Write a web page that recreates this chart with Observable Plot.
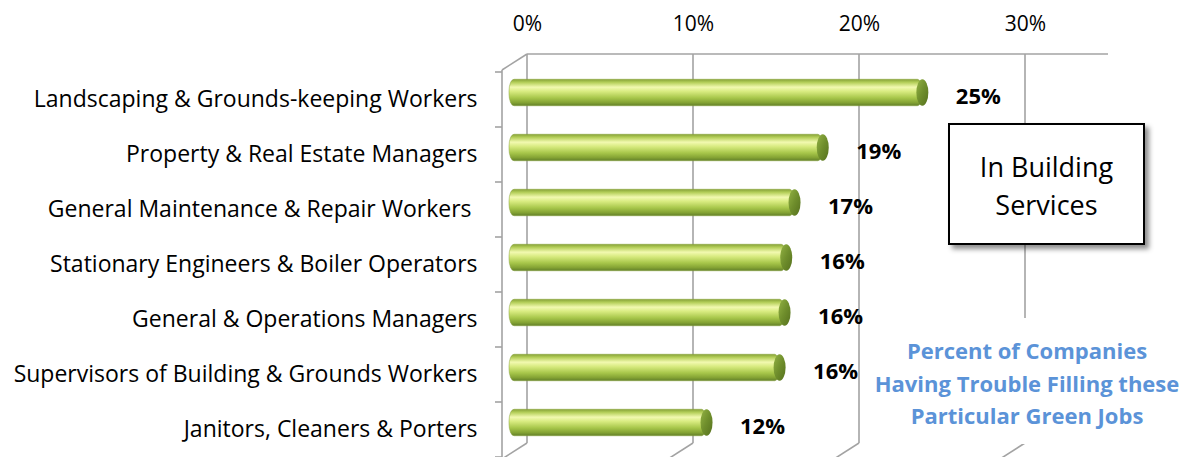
<!DOCTYPE html>
<html>
<head>
<meta charset="utf-8">
<script src="https://cdn.jsdelivr.net/npm/d3@7"></script>
<script src="https://cdn.jsdelivr.net/npm/@observablehq/plot@0.6"></script>
<style>
  html, body { margin: 0; padding: 0; background: #fff; overflow: hidden; }
  #wrap { position: relative; width: 1187px; height: 457px; font-family: "Open Sans", sans-serif; }
  #box { position: absolute; left: 948px; top: 123px; width: 193px; border: 2px solid #000;
         background: #fff; box-shadow: 4px 4px 5px rgba(0,0,0,0.45); font-size: 27px; line-height: 38px;
         text-align: center; padding-top: 23px; box-sizing: content-box; height: 95px; color: #000; }
  #note { position: absolute; left: 866px; top: 318px; width: 322px; height: 110px; background: #fff;
          color: #5b93d8; font-weight: bold; font-size: 22px; line-height: 32.5px; text-align: center; padding-top: 16px; }
</style>
</head>
<body>
<div id="wrap"></div>
<script>
const categories = [
  "Landscaping & Grounds-keeping Workers",
  "Property & Real Estate Managers",
  "General Maintenance & Repair Workers ",
  "Stationary Engineers & Boiler Operators",
  "General & Operations Managers",
  "Supervisors of Building & Grounds Workers",
  "Janitors, Cleaners & Porters"
];
const values = [0.249, 0.189, 0.172, 0.167, 0.166, 0.163, 0.119];
const valueLabels = ["25%", "19%", "17%", "16%", "16%", "16%", "12%"];
const xTicks = [0, 0.1, 0.2, 0.3];
const xDomain = [0, 0.35];
const boxTitle = ["In Building", "Services"];
const noteLines = ["Percent of Companies", "Having Trouble Filling these", "Particular Green Jobs"];

const data = categories.map((c, i) => ({cat: c, v: values[i], label: valueLabels[i]}));

const depthX = -25, depthY = 16;

function defs() {
  const d = d3.create("svg:defs");
  const g = d.append("linearGradient").attr("id", "barGrad").attr("x1", 0).attr("y1", 0).attr("x2", 0).attr("y2", 1);
  [[0, "#86a236"], [0.12, "#b5cf5a"], [0.3, "#f2f9b0"], [0.46, "#d8eb80"], [0.7, "#a8c74b"], [0.88, "#84a334"], [1, "#62802a"]]
    .forEach(([o, c]) => g.append("stop").attr("offset", o).attr("stop-color", c));
  const c = d.append("linearGradient").attr("id", "capGrad").attr("x1", 0).attr("y1", 0).attr("x2", 1).attr("y2", 1);
  [[0, "#93b244"], [0.5, "#6f8e2c"], [1, "#56711e"]]
    .forEach(([o, col]) => c.append("stop").attr("offset", o).attr("stop-color", col));
  return d.node();
}

function wall(index, scales, values, dims) {
  const x = scales.x, y = scales.y;
  const top = dims.marginTop, bottom = dims.height - dims.marginBottom;
  const g = d3.create("svg:g").attr("fill", "none").attr("stroke", "#a3a3a3").attr("stroke-width", 1.6);
  const x0 = x(xDomain[0]), x1 = x(xDomain[1]);
  g.append("line").attr("x1", x0).attr("x2", x1).attr("y1", top).attr("y2", top);
  g.append("line").attr("x1", x0).attr("y1", top).attr("x2", x0 + depthX).attr("y2", top + depthY);
  for (const t of xTicks) {
    const xt = x(t);
    g.append("line").attr("x1", xt).attr("x2", xt).attr("y1", top).attr("y2", bottom);
    g.append("line").attr("x1", xt).attr("y1", bottom).attr("x2", xt + depthX).attr("y2", bottom + depthY);
  }
  const fx = x0 + depthX;
  g.append("line").attr("x1", fx).attr("x2", fx).attr("y1", top + depthY).attr("y2", dims.height + 5);
  const starts = categories.map(c => y(c));
  const step = (starts[starts.length - 1] - starts[0]) / (starts.length - 1);
  const bounds = starts.concat([starts[starts.length - 1] + step]);
  for (const b of bounds) {
    g.append("line").attr("x1", fx - 7).attr("x2", fx).attr("y1", b).attr("y2", b);
  }
  return g.node();
}

const bandInset = 14.25;

const plot = Plot.plot({
  width: 1187,
  height: 457,
  marginTop: 54,
  marginBottom: 14,
  marginLeft: 527,
  marginRight: 79,
  style: {fontFamily: "'Open Sans', sans-serif", fontSize: "21px", color: "#000", background: "transparent", overflow: "visible"},
  x: {domain: xDomain, ticks: xTicks, tickFormat: d3.format(".0%"), axis: "top", tickSize: 0, tickPadding: 24, label: null},
  y: {domain: categories, range: [70, 458.5], padding: 0, tickSize: 0, tickPadding: 50, label: null},
  marks: [
    defs,
    wall,
    Plot.axisY ? Plot.axisY({tickSize: 0, tickPadding: 50, fontSize: 23, label: null}) : null,
    Plot.barX(data, {x: "v", y: "cat", fill: "url(#barGrad)", insetTop: bandInset, insetBottom: bandInset, dx: -18, dy: -7, rx: 5, ry: 12,
      stroke: "#86a13a", strokeWidth: 0.5}),
    Plot.barX(data, {x1: "v", x2: "v", y: "cat", fill: "url(#capGrad)", insetTop: bandInset, insetBottom: bandInset,
      insetLeft: -6, insetRight: -6, dx: -18, dy: -7, rx: 6, ry: 13.5}),
    Plot.text(data, {x: "v", y: "cat", text: "label", textAnchor: "start", dx: 15, dy: -3, fontWeight: "bold", fontSize: 22, fill: "#000"})
  ]
});

const wrap = document.getElementById("wrap");
wrap.appendChild(plot);
const box = document.createElement("div");
box.id = "box";
box.innerHTML = boxTitle.join("<br>");
wrap.appendChild(box);
const note = document.createElement("div");
note.id = "note";
note.innerHTML = noteLines.join("<br>");
wrap.appendChild(note);
</script>
</body>
</html>
